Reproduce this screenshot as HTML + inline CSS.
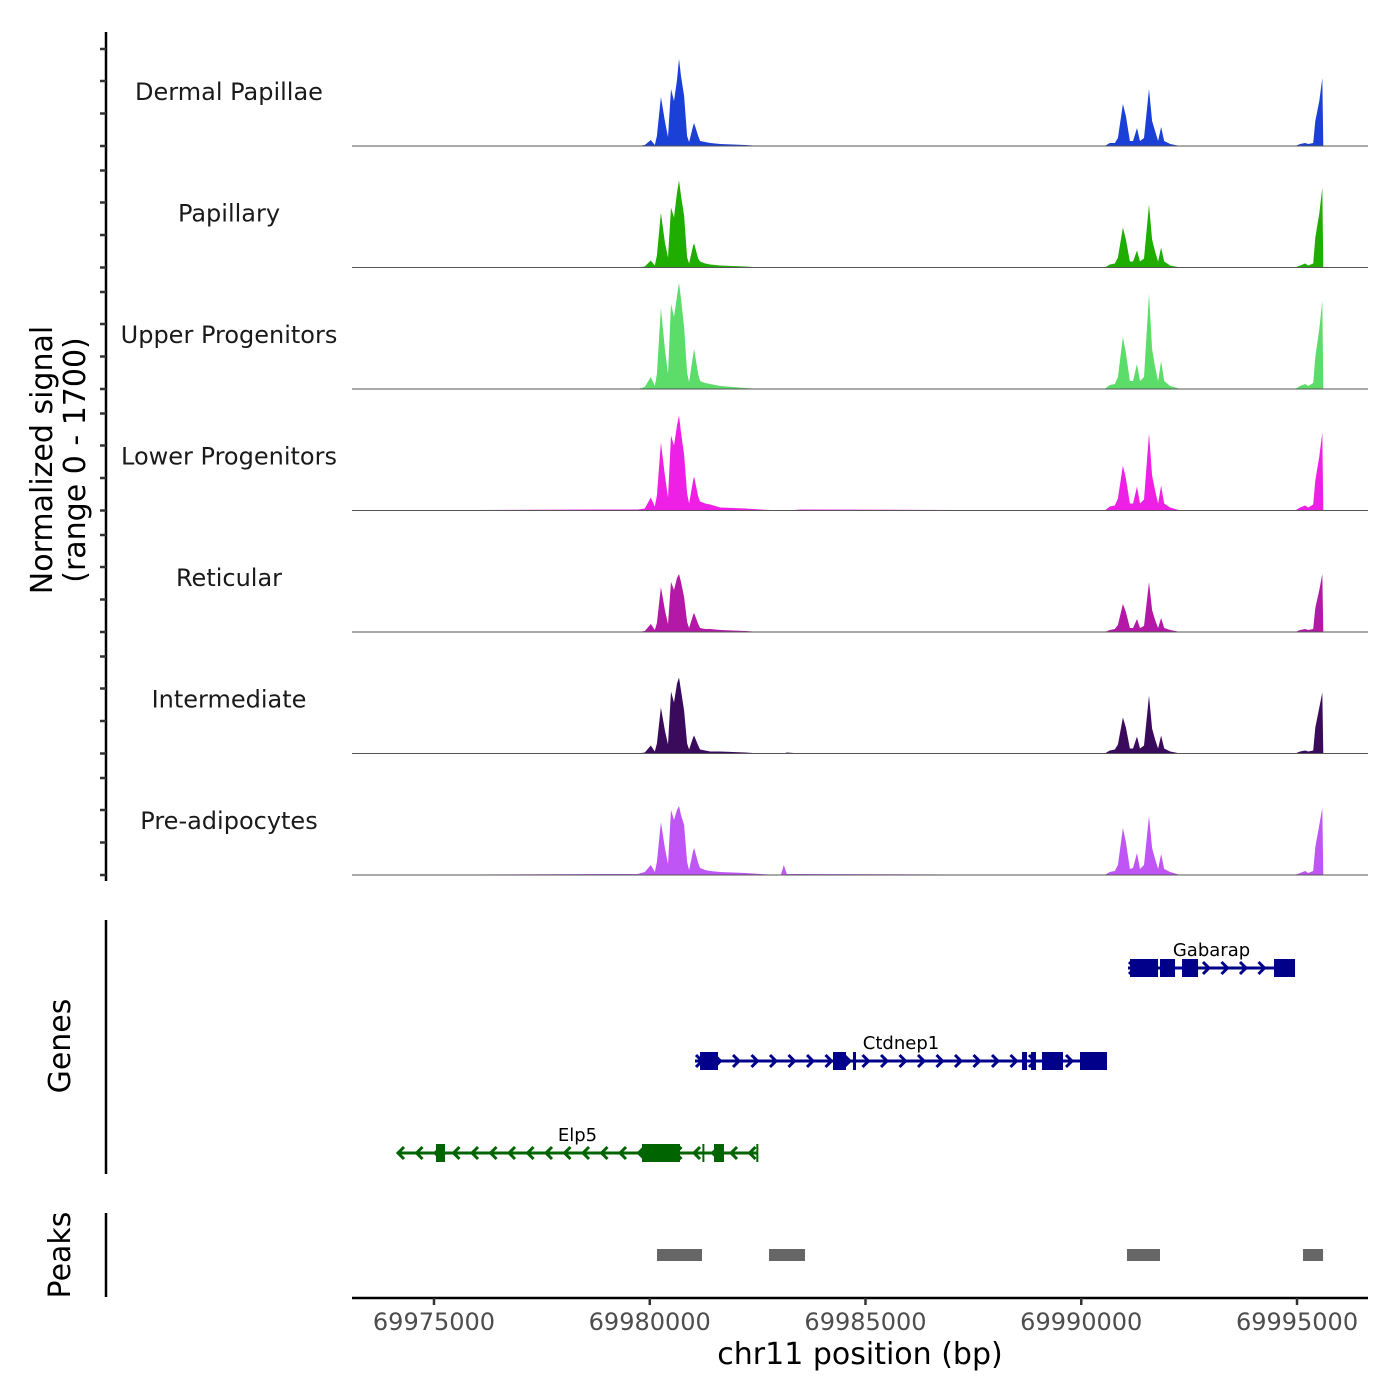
<!DOCTYPE html>
<html><head><meta charset="utf-8"><style>
html,body{margin:0;padding:0;background:#fff}
svg{display:block;font-family:"DejaVu Sans","Liberation Sans",sans-serif}
</style></head><body>
<svg id="chart" width="1400" height="1400" viewBox="0 0 1400 1400" xmlns="http://www.w3.org/2000/svg">
<rect width="1400" height="1400" fill="#fff"/>
<g id="tracks"></g>
<g id="genes"></g>
<g id="peaks"></g>
<g id="axes"></g>
<text x="55" y="460" transform="rotate(-90 55 460)" text-anchor="middle" font-size="30" fill="#000"><tspan x="55" dy="-3">Normalized signal</tspan><tspan x="55" dy="33">(range 0 - 1700)</tspan></text>
<text x="70" y="1046" transform="rotate(-90 70 1046)" text-anchor="middle" font-size="30">Genes</text>
<text x="70" y="1255" transform="rotate(-90 70 1255)" text-anchor="middle" font-size="30">Peaks</text>
<text x="860" y="1364" text-anchor="middle" font-size="30">chr11 position (bp)</text>
</svg>
<script>
const positions=[69973100,69978834,69979721,69979885,69980025,69980118,69980165,69980258,69980352,69980422,69980492,69980562,69980632,69980678,69980725,69980795,69980865,69980912,69981005,69981028,69981122,69981168,69981285,69981402,69981635,69982219,69982569,69983036,69983106,69983176,69983502,
69990544,69990661,69990778,69990848,69990964,69991034,69991128,69991198,69991291,69991361,69991454,69991571,69991641,69991711,69991781,69991851,69991921,69992061,69992295,
69994956,69995072,69995189,69995259,69995376,69995423,69995516,69995586,69995609,69996645];
const trackNames=["Dermal Papillae","Papillary","Upper Progenitors","Lower Progenitors","Reticular","Intermediate","Pre-adipocytes"];
const trackColors=["#1a40d8","#1fae00","#5cdc68","#ee20e6","#b418a6","#3a0a5c","#c055f5"];
const dermalValues=[0,0,0,14,84,14,140,686,350,126,798,630,924,1218,980,700,140,56,280,322,140,70,56,42,28,14,0,0,0,0,0,
0,42,42,112,588,420,70,70,252,70,112,798,350,210,70,266,70,28,0,
0,28,42,28,42,350,630,952,0,0];
const papillaryValues=[0,0,0,14,98,28,168,770,350,140,840,700,1050,1218,1008,728,140,56,308,336,126,84,56,42,28,14,0,0,0,0,0,
0,42,56,140,560,392,84,84,238,84,126,882,392,224,84,280,84,28,0,
0,28,56,28,56,420,756,1120,0,0];
const upperValues=[0,0,0,28,168,42,210,1134,560,210,1190,1008,1302,1484,1260,868,224,98,476,560,210,112,84,70,42,14,0,0,0,0,0,
0,56,70,168,728,504,112,112,350,112,168,1330,560,308,112,392,112,42,0,
0,42,70,42,84,448,840,1232,0,0];
const lowerValues=[0,14,14,28,182,56,210,952,490,182,1050,910,1190,1330,1092,784,238,98,420,476,196,126,98,84,42,28,14,0,0,0,14,
0,56,70,168,630,448,98,98,336,98,154,1078,490,280,98,350,98,42,0,
0,42,70,42,84,420,756,1092,0,0];
const reticularValues=[0,0,0,14,112,28,126,630,308,112,700,588,756,812,700,490,140,56,238,266,112,56,42,42,28,14,0,0,0,0,0,
0,28,42,98,392,280,56,56,182,56,84,700,308,168,56,196,56,28,0,
0,28,42,28,42,336,588,812,0,0];
const intermediateValues=[0,0,0,14,112,28,140,644,322,126,868,714,980,1064,882,602,140,56,224,252,112,56,42,28,28,14,0,0,0,14,0,
0,42,56,126,504,364,70,70,238,70,112,812,350,196,70,252,70,28,0,
0,28,42,28,42,364,644,854,0,0];
const preadipoValues=[0,14,14,42,140,42,182,742,378,154,910,770,910,966,840,700,182,70,336,378,168,98,70,56,42,28,14,0,140,14,14,
0,42,56,140,658,462,84,98,308,84,140,826,378,224,84,294,84,42,0,
0,28,56,28,56,392,700,938,0,0];
const xTicks=[69975000,69980000,69985000,69990000,69995000];
const yMax=1700;
const peakStarts=[69980168,69982764,69991060,69995139];
const peakEnds=[69981211,69983598,69991825,69995603];
const geneNames=["Gabarap","Ctdnep1","Elp5"];
const geneStarts=[69991083,69981049,69974143];
const geneEnds=[69994954,69990597,69982509];
const geneStrands=[1,1,-1];
const gabarapExonStarts=[69991130,69991825,69992335,69994467];
const gabarapExonEnds=[69991779,69992173,69992706,69994954];
const ctdnep1ExonStarts=[69981165,69984247,69984710,69988627,69988835,69989090,69989971];
const ctdnep1ExonEnds=[69981582,69984548,69984780,69988743,69988951,69989577,69990597];
const elp5ExonStarts=[69975046,69979820,69981489,69981220,69982470];
const elp5ExonEnds=[69975255,69980701,69981721,69981260,69982509];

const all=[dermalValues,papillaryValues,upperValues,lowerValues,reticularValues,intermediateValues,preadipoValues];
const NS="http://www.w3.org/2000/svg";
const X0=352,X1=1368,D0=69973100,D1=69996645;
const xs=v=>X0+(v-D0)/(D1-D0)*(X1-X0);
const TH=121.5,B0=146;
function mk(tag,attrs,parent){const e=document.createElementNS(NS,tag);for(const k in attrs)e.setAttribute(k,attrs[k]);parent.appendChild(e);return e;}
const tracks=document.getElementById('tracks');
all.forEach((vals,i)=>{
  const base=B0+i*TH;
  const ys=v=>base-v/yMax*TH;
  let d=`M${xs(positions[0])},${base}`;
  positions.forEach((p,j)=>{d+=` L${xs(p).toFixed(1)},${ys(vals[j]).toFixed(1)}`;});
  d+=` L${xs(positions[positions.length-1])},${base} Z`;
  const a=mk('path',{d:d,fill:trackColors[i]},tracks);
  
  
  const l=mk('line',{x1:X0,x2:X1,y1:base,y2:base,stroke:'#555','stroke-width':1},tracks);
  
  
  const t=mk('text',{x:229,y:base-46,'text-anchor':'middle','font-size':24,fill:'#1a1a1a'},tracks);
  t.textContent=trackNames[i];
  
  
});
const axes=document.getElementById('axes');
function ln(x1,y1,x2,y2,w,c,name,par){const e=mk('line',{x1,y1,x2,y2,stroke:c,'stroke-width':w},par||axes);return e;}
ln(106,32,106,881,2.5,'#000','y-axis-line');
for(let i=0;i<7;i++){const b=B0+i*TH;[0,32.5,65,97].forEach(o=>ln(100,b-o,106,b-o,2.5,'#333','y-axis-tick'));}
ln(106,920,106,1174,2.5,'#000','genes-axis-line');
ln(106,1213,106,1297,2.5,'#000','peaks-axis-line');
ln(352,1298,1368,1298,2.5,'#000','x-axis-line');
xTicks.forEach(t=>{const x=xs(t);ln(x,1298,x,1305,2.5,'#333','x-axis-tick');
  const e=mk('text',{x:x,y:1330,'text-anchor':'middle','font-size':24,fill:'#4d4d4d'},axes);
  e.textContent=String(t);
  
  });
const peaks=document.getElementById('peaks');
peakStarts.forEach((s,i)=>{const r=mk('rect',{x:xs(s),y:1249,width:xs(peakEnds[i])-xs(s),height:12,fill:'#666'},peaks);
  
  });
const genes=document.getElementById('genes');
const geneY=[968,1061,1153],geneColors=['#00008b','#00008b','#006400'];
const exS=[gabarapExonStarts,ctdnep1ExonStarts,elp5ExonStarts],exE=[gabarapExonEnds,ctdnep1ExonEnds,elp5ExonEnds];
geneNames.forEach((g,i)=>{
  const y=geneY[i],c=geneColors[i],a=xs(geneStarts[i]),b=xs(geneEnds[i]);
  ln(a,y,b,y,3,c,'gene-intron-line',genes);
  const dir=geneStrands[i];
  for(let x=a+4;x<b-2;x+=18.5){const p=mk('polyline',{points:`${x-3*dir},${y-6} ${x+3*dir},${y} ${x-3*dir},${y+6}`,fill:'none',stroke:c,'stroke-width':3},genes);
    
    }
  exS[i].forEach((s,j)=>{const r=mk('rect',{x:xs(s),y:y-9,width:Math.max(2,xs(exE[i][j])-xs(s)),height:18,fill:c},genes);
    
    });
  const t=mk('text',{x:(a+b)/2,y:y-12,'text-anchor':'middle','font-size':18,fill:'#000'},genes);
  t.textContent=g;
  
  
});
</script>
</body></html>
